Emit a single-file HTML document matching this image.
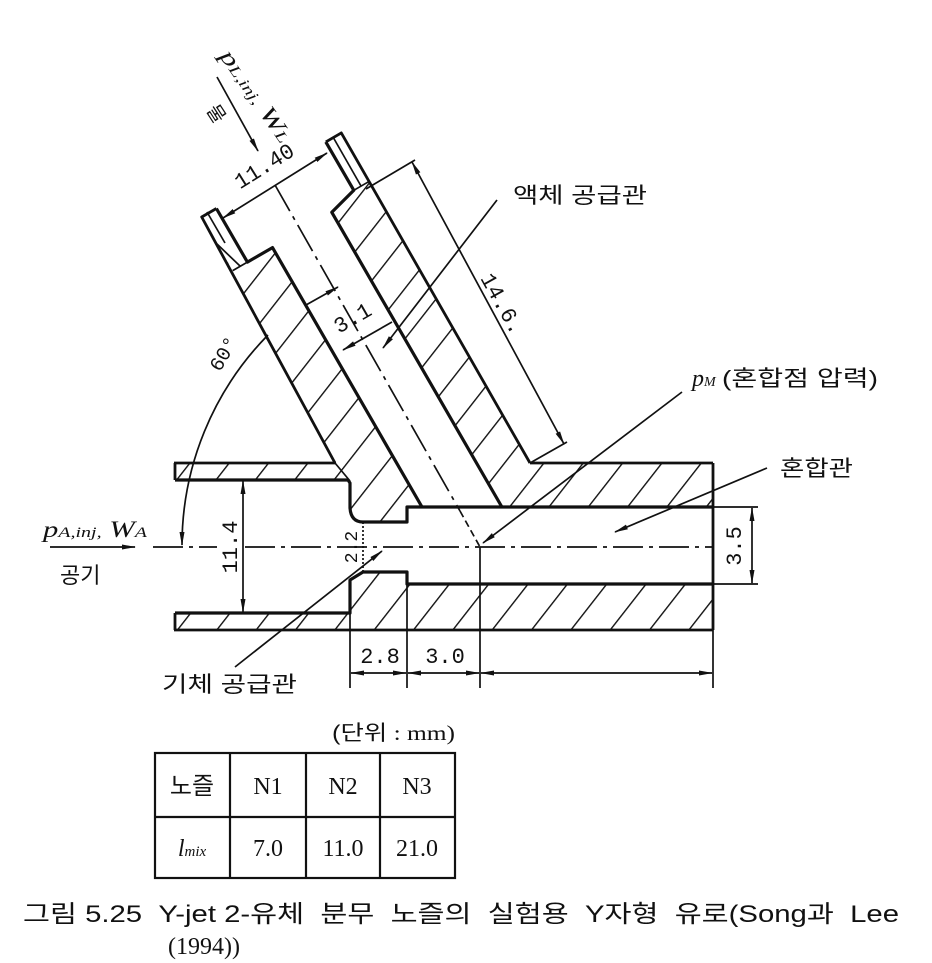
<!DOCTYPE html>
<html><head><meta charset="utf-8"><style>
html,body{margin:0;padding:0;background:#fff;}
svg{display:block;}
.k{font-family:"Liberation Sans","Noto Sans CJK KR",sans-serif;}
.s{font-family:"Liberation Serif","Noto Serif CJK SC",serif;}
.m{font-family:"Liberation Mono",monospace;}
</style></head><body>
<svg width="932" height="963" viewBox="0 0 932 963" xmlns="http://www.w3.org/2000/svg">
<defs>
<pattern id="h" patternUnits="userSpaceOnUse" width="31" height="31" patternTransform="rotate(38)">
<line x1="0" y1="0" x2="0" y2="31" stroke="#111" stroke-width="2.8"/>
</pattern>
<marker id="a" markerUnits="userSpaceOnUse" markerWidth="14" markerHeight="6" refX="13" refY="3" orient="auto-start-reverse">
<path d="M0,0.5 L14,3 L0,5.5 Z" fill="#111"/>
</marker>
</defs>
<rect width="932" height="963" fill="#fff"/>

<polygon points="175,463 335,463 201.7,217 216.4,208.5 325.8,141.9 341.3,132.9 530,463 713,463 713,630 175,630" fill="url(#h)"/>
<path d="M175,480 L348,480 L350,483 L350,508 Q351,522 363,522 L407,522 L407,507 L713,507 L713,584 L407,584 L407,572 L363,572 L350,580 L350,613 L175,613 Z" fill="#fff"/>
<polygon points="208.9,195.5 247.4,262.1 272.5,247.6 422,507 501.9,507 331.8,212.3 353.8,190.3 319.8,131.5" fill="#fff"/>
<polygon points="232.7,270.6 201.7,217 216.4,208.5 247.4,262.1" fill="#fff"/>
<polygon points="353.8,190.3 325.8,141.9 341.3,132.9 369.3,181.3" fill="#fff"/>

<g stroke="#111" fill="none" stroke-width="2.8" stroke-linejoin="round">
<line x1="174" y1="463" x2="336" y2="463"/>
<line x1="530" y1="463" x2="713" y2="463"/>
<line x1="713" y1="463" x2="713" y2="630"/>
<line x1="174" y1="630" x2="713" y2="630"/>
<line x1="175" y1="463" x2="175" y2="480"/>
<line x1="175" y1="613" x2="175" y2="630"/>
<polyline points="335,463 201.7,217 216.4,208.5"/>
<polyline points="530,463 341.3,132.9 325.8,141.9"/>
<path d="M175,480 L348,480 L350,483 L350,508 Q351,522 363,522 L407,522 L407,507 L713,507 M713,584 L407,584 L407,572 L363,572 L350,580 L350,613 L175,613" stroke-width="3.2"/>
<polyline points="216.4,208.5 247.4,262.1 272.5,247.6 422,507" stroke-width="3.2"/>
<polyline points="501.9,507 331.8,212.3 353.8,190.3 325.8,141.9" stroke-width="3.2"/>
</g>
<g stroke="#111" fill="none" stroke-width="1.7">
<line x1="335" y1="463" x2="350" y2="481"/>
<line x1="217" y1="244" x2="240" y2="266"/>
<line x1="232.7" y1="270.6" x2="247.4" y2="262.1"/>
<line x1="353.8" y1="190.3" x2="369.3" y2="181.3"/>
<line x1="207" y1="212" x2="225" y2="243"/>
<line x1="333" y1="137" x2="361" y2="186"/>
<line x1="350" y1="613" x2="350" y2="688"/>
<line x1="407" y1="584" x2="407" y2="688"/>
<line x1="480" y1="547" x2="480" y2="688"/>
<line x1="713" y1="630" x2="713" y2="688"/>
<line x1="713" y1="507" x2="758" y2="507"/>
<line x1="713" y1="584" x2="758" y2="584"/>
<line x1="153" y1="547" x2="713" y2="547" stroke-dasharray="30 6 4 6"/>
<line x1="275" y1="185" x2="460" y2="511" stroke-dasharray="30 6 4 6"/>
<line x1="460" y1="511" x2="480" y2="547" stroke-dasharray="7 4"/>
<line x1="363" y1="522" x2="363" y2="572" stroke-dasharray="2 2"/>
<line x1="243" y1="481" x2="243" y2="612" marker-start="url(#a)" marker-end="url(#a)"/>
<line x1="752" y1="508" x2="752" y2="583" marker-start="url(#a)" marker-end="url(#a)"/>
<line x1="351" y1="673" x2="406" y2="673" marker-start="url(#a)" marker-end="url(#a)"/>
<line x1="408" y1="673" x2="479" y2="673" marker-start="url(#a)" marker-end="url(#a)"/>
<line x1="481" y1="673" x2="712" y2="673" marker-start="url(#a)" marker-end="url(#a)"/>
<line x1="223" y1="218" x2="327" y2="153" marker-start="url(#a)" marker-end="url(#a)"/>
<line x1="366" y1="189" x2="415" y2="160"/>
<line x1="530" y1="463" x2="567" y2="442"/>
<line x1="412" y1="162" x2="564" y2="444" marker-start="url(#a)" marker-end="url(#a)"/>
<line x1="306" y1="305" x2="338" y2="287" marker-end="url(#a)"/>
<line x1="392" y1="322" x2="343" y2="350" marker-end="url(#a)"/>
<path d="M268,335 A300,300 0 0 0 182,545" marker-end="url(#a)"/>
<line x1="497" y1="200" x2="383" y2="348" marker-end="url(#a)"/>
<line x1="682" y1="392" x2="483" y2="543" marker-end="url(#a)"/>
<line x1="767" y1="468" x2="615" y2="532" marker-end="url(#a)"/>
<line x1="235" y1="667" x2="382" y2="551" marker-end="url(#a)"/>
<line x1="50" y1="547" x2="135" y2="547" marker-end="url(#a)"/>
<line x1="217" y1="77" x2="258" y2="151" marker-end="url(#a)"/>
</g>

<g class="m" font-size="22" fill="#111">
<rect x="217" y="520" width="24" height="54" fill="#fff"/>
<text transform="translate(237,547) rotate(-90)" text-anchor="middle">11.4</text>
<text transform="translate(357,547) rotate(-90)" text-anchor="middle" font-size="18">2.2</text>
<text transform="translate(741,546) rotate(-90)" text-anchor="middle">3.5</text>
<text x="380" y="663" text-anchor="middle">2.8</text>
<text x="445" y="663" text-anchor="middle">3.0</text>
<text transform="translate(268,172) rotate(-32)" text-anchor="middle">11.40</text>
<text transform="translate(496,307) rotate(61)" text-anchor="middle">14.6.</text>
<text transform="translate(356,324) rotate(-30)" text-anchor="middle">3.1</text>
<text transform="translate(229,357) rotate(-60)" text-anchor="middle" font-size="20">60°</text>
</g>

<g fill="#111">
<text class="k" x="513" y="203" font-size="22" textLength="134" lengthAdjust="spacingAndGlyphs">액체 공급관</text>
<text class="s" x="692" y="386" font-size="24" font-style="italic">p<tspan font-size="14">M</tspan></text>
<text class="k" x="722" y="386" font-size="22" textLength="156" lengthAdjust="spacingAndGlyphs">(혼합점 압력)</text>
<text class="k" x="780" y="476" font-size="22" textLength="73" lengthAdjust="spacingAndGlyphs">혼합관</text>
<text class="k" x="162" y="692" font-size="22" textLength="135" lengthAdjust="spacingAndGlyphs">기체 공급관</text>
<text class="s" x="43" y="537" font-size="23" font-style="italic" textLength="104" lengthAdjust="spacingAndGlyphs">p<tspan font-size="15">A,inj,</tspan> W<tspan font-size="15">A</tspan></text>
<text class="k" x="60" y="583" font-size="22">공기</text>
<text class="s" transform="translate(219,56) rotate(55)" font-size="23" font-style="italic" textLength="108" lengthAdjust="spacingAndGlyphs">p<tspan font-size="15">L,inj,</tspan> W<tspan font-size="15">L</tspan></text>
<text class="k" transform="translate(206,110) rotate(57)" font-size="19">물</text>
<text class="s" x="332" y="740" font-size="21" textLength="123" lengthAdjust="spacingAndGlyphs"><tspan class="k">(단위</tspan> : mm)</text>
</g>

<g stroke="#111" stroke-width="2.2" fill="none">
<rect x="155" y="753" width="300" height="125"/>
<line x1="155" y1="817" x2="455" y2="817"/>
<line x1="230" y1="753" x2="230" y2="878"/>
<line x1="306" y1="753" x2="306" y2="878"/>
<line x1="380" y1="753" x2="380" y2="878"/>
</g>
<g fill="#111" font-size="24" text-anchor="middle">
<text class="k" x="192" y="794">노즐</text>
<text class="s" x="268" y="794">N1</text>
<text class="s" x="343" y="794">N2</text>
<text class="s" x="417" y="794">N3</text>
<text class="s" x="192" y="856" font-style="italic">l<tspan font-size="15">mix</tspan></text>
<text class="s" x="268" y="856">7.0</text>
<text class="s" x="343" y="856">11.0</text>
<text class="s" x="417" y="856">21.0</text>
</g>
<text class="k" x="23" y="922" font-size="24" fill="#111" textLength="876" lengthAdjust="spacingAndGlyphs" xml:space="preserve">그림 5.25  Y-jet 2-유체  분무  노즐의  실험용  Y자형  유로(Song과  Lee</text>
<text class="s" x="168" y="954" font-size="24" fill="#111">(1994))</text>
</svg>
</body></html>
